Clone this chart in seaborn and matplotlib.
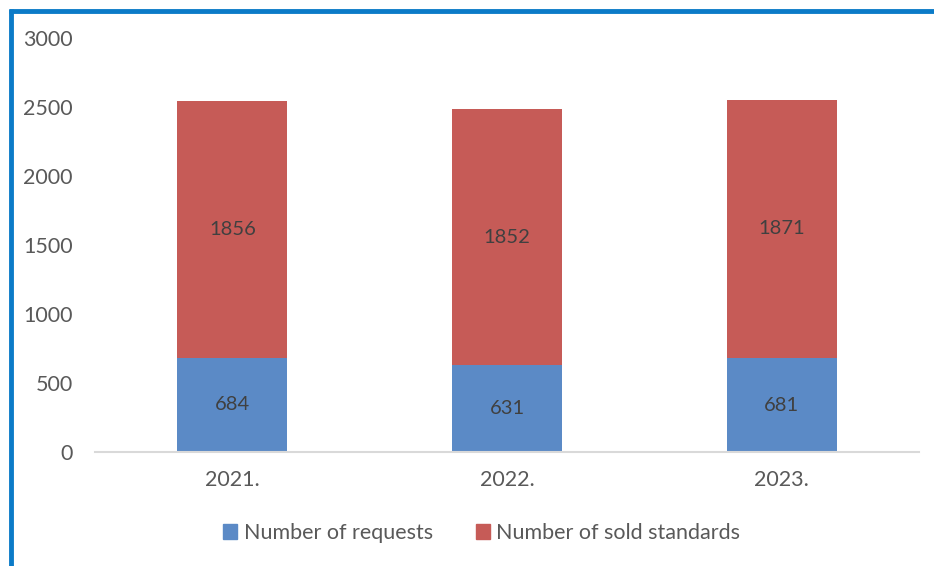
import pandas as pd
import seaborn as sns
import matplotlib.pyplot as plt
from matplotlib.patches import Patch
from matplotlib.lines import Line2D

# Data
years = ['2021.', '2022.', '2023.']
requests = [684, 631, 681]
sold = [1856, 1852, 1871]

df = pd.DataFrame({'year': years, 'requests': requests, 'sold': sold})
df['total'] = df['requests'] + df['sold']

blue = '#5B8AC6'
red = '#C65B57'
grey = '#595959'

sns.set_theme(style="white")
plt.rcParams['font.family'] = ['Lato', 'DejaVu Sans']

fig = plt.figure(figsize=(9.34, 5.66), dpi=100)
ax = fig.add_axes([0.1017, 0.2014, 0.8823, 0.7315])

# Stacked bars: total in red, requests in blue drawn over it
sns.barplot(data=df, x='year', y='total', color=red, width=0.4,
            saturation=1, linewidth=0, ax=ax)
sns.barplot(data=df, x='year', y='requests', color=blue, width=0.4,
            saturation=1, linewidth=0, ax=ax)

# Value labels in the middle of each segment
for i, row in df.iterrows():
    ax.text(i, row['requests'] / 2, str(row['requests']), ha='center',
            va='center', fontsize=14.5, color='#404040')
    ax.text(i, row['requests'] + row['sold'] / 2, str(row['sold']),
            ha='center', va='center', fontsize=14.5, color='#404040')

ax.set_ylim(0, 3000)
ax.set_xlim(-0.5, 2.5)
ax.set_yticks(range(0, 3001, 500))
ax.set_xlabel('')
ax.set_ylabel('')
for s in ['top', 'right', 'left']:
    ax.spines[s].set_visible(False)
ax.spines['bottom'].set_color('#D9D9D9')
ax.spines['bottom'].set_linewidth(1.5)
ax.tick_params(axis='both', length=0, labelsize=15.5, labelcolor=grey)
ax.tick_params(axis='y', pad=16)
ax.tick_params(axis='x', pad=13)

handles = [Patch(color=blue, label='Number of requests'),
           Patch(color=red, label='Number of sold standards')]
leg = fig.legend(handles=handles, loc='center', ncol=2,
                 bbox_to_anchor=(0.516, 0.058), frameon=False,
                 handlelength=0.65, handleheight=0.65, handletextpad=0.3,
                 columnspacing=2.0, fontsize=15.5)
for t in leg.get_texts():
    t.set_color(grey)

# Blue frame on left and top
frame = '#0B7BC8'
fig.add_artist(Line2D([11 / 934, 11 / 934], [0, 1 - 9 / 566],
                      transform=fig.transFigure, color=frame, lw=3.5,
                      solid_capstyle='butt'))
fig.add_artist(Line2D([9 / 934, 1], [1 - 11 / 566, 1 - 11 / 566],
                      transform=fig.transFigure, color=frame, lw=3.5,
                      solid_capstyle='butt'))

fig.savefig('out.png', dpi=100)
